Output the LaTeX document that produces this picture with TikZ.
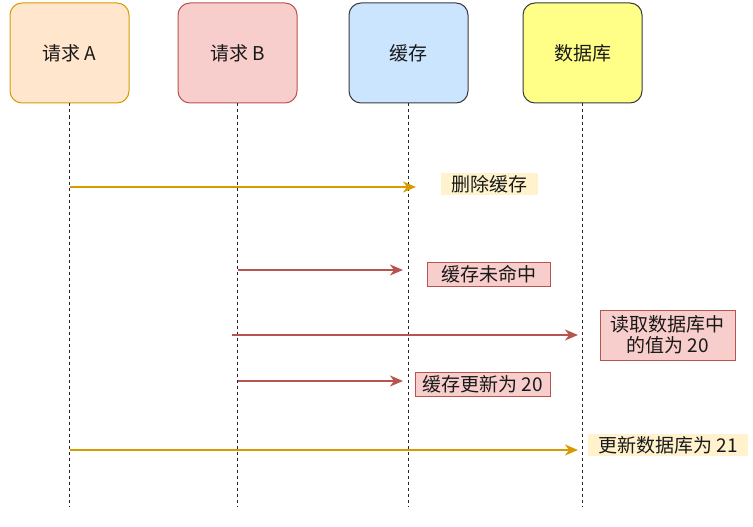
\documentclass[tikz,border=0pt]{standalone}
\usepackage{fontspec}
\setmainfont{Noto Sans CJK SC}
\usetikzlibrary{arrows.meta}
\definecolor{aFill}{HTML}{FFE6CC}
\definecolor{aLine}{HTML}{D79B00}
\definecolor{bFill}{HTML}{F8CECC}
\definecolor{bLine}{HTML}{B85450}
\definecolor{cFill}{HTML}{CCE5FF}
\definecolor{cLine}{HTML}{36393D}
\definecolor{dFill}{HTML}{FFFF88}
\definecolor{yFill}{HTML}{FFF2CC}
\begin{document}
\begin{tikzpicture}[x=1pt,y=-1pt,
  every node/.style={font=\fontsize{19}{21}\selectfont, text=black!90, inner sep=0pt},
  actor/.style={draw, rounded corners=12pt, line width=1pt, minimum width=119pt, minimum height=100pt},
  life/.style={line width=1.4pt, black!85, dash pattern=on 3pt off 3pt},
  yarrow/.style={aLine, line width=1.8pt, -{Stealth[length=13pt,width=11pt,inset=4pt]}},
  rarrow/.style={bLine, line width=1.8pt, -{Stealth[length=13pt,width=11pt,inset=4pt]}},
  ylabel/.style={fill=yFill, minimum height=22pt},
  rlabel/.style={fill=bFill, draw=bLine, line width=1pt, minimum height=24pt}
]
\useasboundingbox (0,0) rectangle (753,527);
\node[actor, fill=aFill, draw=aLine] (A) at (69.5,53) {请求 A};
\node[actor, fill=bFill, draw=bLine] (B) at (237.5,53) {请求 B};
\node[actor, fill=cFill, draw=cLine] (C) at (408.5,53) {缓存};
\node[actor, fill=dFill, draw=cLine] (D) at (582.5,53) {数据库};

\coordinate (Aend) at (69.5,507);
\coordinate (Bend) at (237.5,507);
\coordinate (Cend) at (408.5,507);
\coordinate (Dend) at (582.5,507);
\draw[life] (A.south) -- (Aend);
\draw[life] (B.south) -- (Bend);
\draw[life] (C.south) -- (Cend);
\draw[life] (D.south) -- (Dend);

% messages
\coordinate (m1s) at (69.5,187);  \coordinate (m1e) at (416,187);
\coordinate (m2s) at (237.5,270); \coordinate (m2e) at (403,270);
\coordinate (m3s) at (232,335);   \coordinate (m3e) at (578,335);
\coordinate (m4s) at (237.5,381); \coordinate (m4e) at (403,381);
\coordinate (m5s) at (69.5,450);  \coordinate (m5e) at (578,450);
\draw[yarrow] (m1s) -- (m1e);
\draw[rarrow] (m2s) -- (m2e);
\draw[rarrow] (m3s) -- (m3e);
\draw[rarrow] (m4s) -- (m4e);
\draw[yarrow] (m5s) -- (m5e);

\node[ylabel, minimum width=97pt] (L1) at (489.5,184) {删除缓存};
\node[rlabel, minimum width=123pt] (L2) at (488.5,274) {缓存未命中};
\node[rlabel, align=center, minimum width=135pt, minimum height=50pt] (L3) at (667.5,335) {读取数据库中\\的值为 20};
\node[rlabel, minimum width=135pt] (L4) at (482.5,384) {缓存更新为 20};
\node[ylabel, minimum width=160pt] (L5) at (668,445) {更新数据库为 21};
\end{tikzpicture}
\end{document}
